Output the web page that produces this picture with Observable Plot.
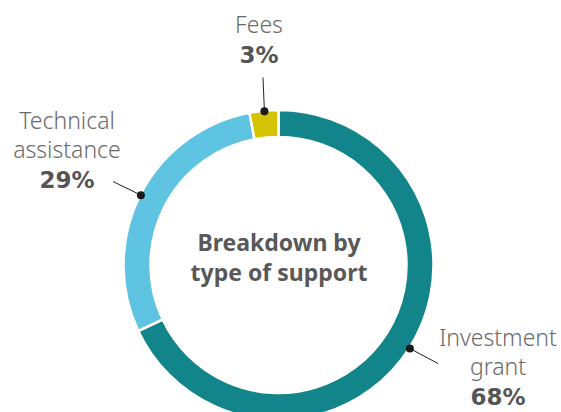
<!DOCTYPE html>
<html><head><meta charset="utf-8">
<script src="https://cdn.jsdelivr.net/npm/d3@7"></script>
<script src="https://cdn.jsdelivr.net/npm/@observablehq/plot@0.6"></script>
<style>
html,body{margin:0;padding:0;background:#fff;}
#chart{width:561px;height:412px;overflow:hidden;}
</style>
</head><body><div id="chart"></div>
<script>
// data (clockwise from 12 o'clock)
const categories = ["Investment grant", "Technical assistance", "Fees"];
const shares = [68, 29, 3];
const labelLines = [["Investment", "grant"], ["Technical", "assistance"], ["Fees"]];
const colors = ["#12858a", "#5ec4e2", "#d4c300"];
const centerTitle = ["Breakdown by", "type of support"];

// layout (pixels relative to donut centre, y down)
const R = 155, RIN = 128;
const labelAnchor = [[219, 80], [-212, -137], [-20, -233]]; // first text line centre
const leaderEnd = [[159, 98], [-166, -84], [-16, -188]];
const lineGap = 29;

const pie = d3.pie().sort(null).value(d => d.v)(categories.map((c, i) => ({c, v: shares[i], i})));
const slices = pie.map(p => {
  const mid = (p.startAngle + p.endAngle) / 2;
  return {...p, mid, dx: R * Math.sin(mid), dy: -R * Math.cos(mid)};
});

const textRows = [];
slices.forEach((s, i) => {
  const [ax, ay] = labelAnchor[i];
  labelLines[i].forEach((t, k) => textRows.push({x: ax, y: ay + k * lineGap, t, bold: false}));
  textRows.push({x: ax, y: ay + labelLines[i].length * lineGap + 1, t: shares[i] + "%", bold: true});
});
const links = slices.map((s, i) => ({x1: s.dx, y1: s.dy, x2: leaderEnd[i][0], y2: leaderEnd[i][1]}));

function donut(index, scales) {
  const cx = scales.x(0), cy = scales.y(0);
  const k = scales.x(1) - scales.x(0);
  const arc = d3.arc().innerRadius(RIN * k).outerRadius(R * k);
  const g = d3.create("svg:g").attr("transform", `translate(${cx},${cy})`);
  g.selectAll("path").data(slices).join("path")
    .attr("d", arc).attr("fill", d => colors[d.data.i])
    .attr("stroke", "#fff").attr("stroke-width", 2.5);
  return g.node();
}

const chart = Plot.plot({
  width: 561, height: 412, margin: 0,
  style: {background: "#fff", fontFamily: "'Noto Sans', sans-serif"},
  x: {domain: [-278.5, 282.5], range: [0, 561], axis: null},
  y: {domain: [-265, 147], range: [0, 412], axis: null},
  marks: [
    donut,
    Plot.link(links, {x1: "x1", y1: "y1", x2: "x2", y2: "y2", stroke: "#222", strokeWidth: 1}),
    Plot.dot(slices, {x: "dx", y: "dy", r: 4, fill: "#1a1a1a"}),
    Plot.text(textRows.filter(d => !d.bold), {x: "x", y: "y", text: "t", fontSize: 23, fontWeight: 300, fill: "#6a6a6a", lineAnchor: "bottom"}),
    Plot.text(textRows.filter(d => d.bold), {x: "x", y: "y", text: "t", fontSize: 23, fontWeight: 700, fill: "#555", fontFamily: "'DejaVu Sans', sans-serif", lineAnchor: "bottom"}),
    Plot.text(centerTitle.map((t, k) => ({t, y: -15 + k * 30})), {x: 0, y: "y", text: "t", fontSize: 23, fontWeight: 700, fill: "#585858", lineAnchor: "bottom"})
  ]
});
document.getElementById("chart").appendChild(chart);
</script></body></html>
